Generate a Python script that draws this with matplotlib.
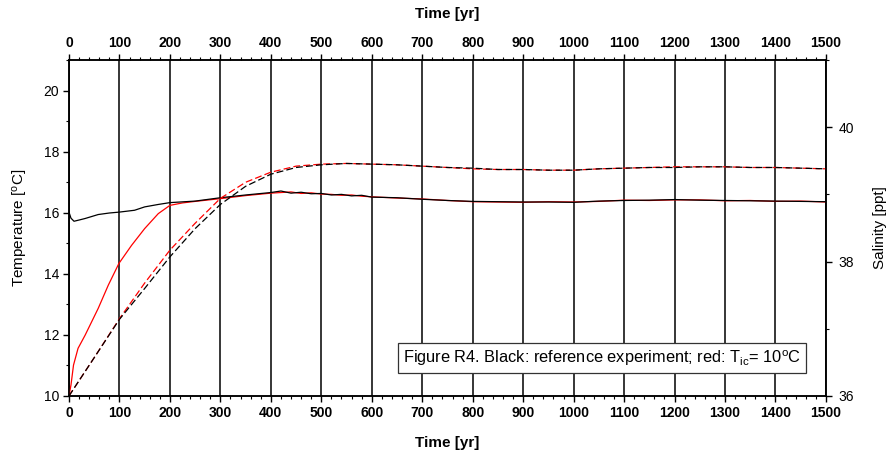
import matplotlib
matplotlib.use('Agg')
import matplotlib.pyplot as plt
from matplotlib.ticker import MultipleLocator

plt.rcParams['font.family'] = ['Liberation Sans', 'DejaVu Sans']
plt.rcParams['mathtext.fontset'] = 'custom'
plt.rcParams['mathtext.rm'] = 'Liberation Sans'
plt.rcParams['mathtext.it'] = 'Liberation Sans:italic'

# --- Temperature, reference run (black solid) ---
t_ref_T = [0, 4, 10, 20, 32, 58, 80, 100, 130, 150, 177, 200, 250, 300, 350,
           400, 420, 440, 460, 480, 500, 520, 540, 560, 580, 600, 650, 700, 750,
           800, 850, 900, 950, 1000, 1050, 1100, 1150, 1200, 1250, 1300, 1350,
           1400, 1450, 1500]
temp_ref = [16.02, 15.82, 15.72, 15.76, 15.81, 15.94, 15.99, 16.02, 16.08, 16.19,
            16.27, 16.33, 16.38, 16.49, 16.58, 16.66, 16.71, 16.64, 16.67,
            16.62, 16.63, 16.58, 16.60, 16.55, 16.57, 16.51, 16.49, 16.44, 16.40,
            16.37, 16.36, 16.35, 16.35, 16.34, 16.38, 16.40, 16.41, 16.43, 16.41,
            16.40, 16.39, 16.38, 16.37, 16.36]

# --- Temperature, T_ic = 10 C run (red solid) ---
t_ic_T = [0, 4, 9, 18, 32, 58, 78, 99, 124, 150, 177, 200, 225, 250, 300, 350,
          400, 420, 440, 460, 480, 500, 520, 540, 560, 580, 600, 650, 700, 750,
          800, 850, 900, 950, 1000, 1050, 1100, 1150, 1200, 1250, 1300, 1350,
          1400, 1450, 1500]
temp_ic = [10.00, 10.36, 11.01, 11.56, 11.99, 12.87, 13.63, 14.34, 14.93, 15.48,
           15.97, 16.24, 16.32, 16.37, 16.46, 16.56, 16.64, 16.66, 16.68, 16.63,
           16.65, 16.61, 16.60, 16.57, 16.58, 16.54, 16.52, 16.48, 16.45, 16.40,
           16.36, 16.35, 16.34, 16.36, 16.35, 16.37, 16.41, 16.40, 16.42, 16.42,
           16.39, 16.40, 16.37, 16.38, 16.35]

# --- Salinity (dashed) ---
t_S = [0, 50, 100, 150, 200, 250, 300, 350, 400, 450, 500, 550, 600, 650, 700,
       750, 800, 850, 900, 950, 1000, 1050, 1100, 1150, 1200, 1250, 1300, 1350,
       1400, 1450, 1500]
sal_ref = [36.00, 36.57, 37.14, 37.60, 38.07, 38.49, 38.85, 39.12, 39.30, 39.40,
           39.44, 39.46, 39.45, 39.44, 39.42, 39.40, 39.39, 39.37, 39.37, 39.36,
           39.36, 39.38, 39.39, 39.40, 39.40, 39.41, 39.41, 39.40, 39.40, 39.39,
           39.38]
sal_ic = [36.00, 36.57, 37.15, 37.68, 38.17, 38.57, 38.94, 39.18, 39.33, 39.42,
          39.45, 39.46, 39.45, 39.44, 39.42, 39.40, 39.38, 39.37, 39.37, 39.36,
          39.36, 39.38, 39.39, 39.40, 39.41, 39.41, 39.41, 39.40, 39.40, 39.39,
          39.38]

fig = plt.figure(figsize=(8.91, 4.62), dpi=100)
ax = fig.add_axes([0.0774, 0.1429, 0.8496, 0.7273])
ax2 = ax.twinx()

ax.plot(t_ic_T, temp_ic, color='red', lw=0.9, zorder=3)
ax.plot(t_ref_T, temp_ref, color='black', lw=0.9, zorder=4)
ax2.plot(t_S, sal_ic, color='red', lw=0.9, dashes=(5.5, 2.5))
ax2.plot(t_S, sal_ref, color='black', lw=0.9, dashes=(5.5, 2.5))

ax.set_xlim(0, 1500)
ax.set_ylim(10, 21)
ax2.set_ylim(36, 41)

ax.xaxis.set_major_locator(MultipleLocator(100))
ax.xaxis.set_minor_locator(MultipleLocator(20))
ax.yaxis.set_major_locator(MultipleLocator(2))
ax.yaxis.set_minor_locator(MultipleLocator(1))
ax2.yaxis.set_major_locator(MultipleLocator(2))
ax2.yaxis.set_minor_locator(MultipleLocator(1))

ax.grid(axis='x', which='major', color='black', lw=1.1)

for a in (ax, ax2):
    for s in a.spines.values():
        s.set_linewidth(1.1)
    a.tick_params(which='major', length=4, width=1, labelsize=10, direction='out')
    a.tick_params(which='minor', length=2.3, width=0.8, direction='out')
ax.tick_params(axis='x', which='both', top=True, labeltop=True, pad=3)
ax.tick_params(axis='y', pad=3)
ax2.tick_params(axis='y', pad=5)
for lab in ax.get_xticklabels():
    lab.set_fontweight('bold')

ax.set_xlabel('Time [yr]', fontsize=11, fontweight='bold', labelpad=12)
top = ax.secondary_xaxis('top')
top.set_xticks([])
top.spines['top'].set_visible(False)
top.set_xlabel('Time [yr]', fontsize=11, fontweight='bold', labelpad=30)

ax.set_ylabel(r'Temperature [$^{\rm o}$C]', fontsize=11, labelpad=10)
ax2.set_ylabel('Salinity [ppt]', fontsize=11, labelpad=14)

ax.text(1057, 11.24,
        r'Figure R4. Black: reference experiment; red: T$_{\rm ic}$= 10$^{\rm o}$C',
        fontsize=11.8, ha='center', va='center', zorder=6,
        bbox=dict(boxstyle='square,pad=0.3', fc='white', ec='#333333', lw=0.9))

fig.savefig('out.png', dpi=100, facecolor='white')
